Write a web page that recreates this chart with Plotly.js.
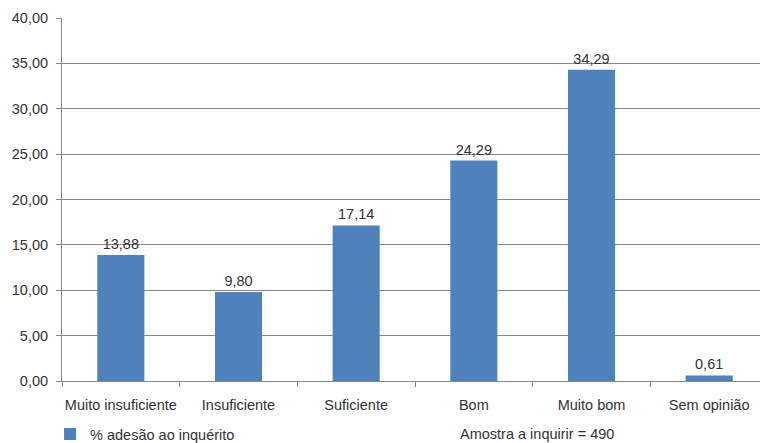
<!DOCTYPE html>
<html>
<head>
<meta charset="utf-8">
<script src="https://cdn.plot.ly/plotly-3.0.1.min.js"></script>
<style>
  html, body { margin: 0; padding: 0; overflow: hidden; background: #fff; }
  #chart { width: 770px; height: 443px; }
</style>
</head>
<body>
<div id="chart"></div>
<script>
// Avaliação do serviço – respostas ao inquérito (%)
const categorias = ["Muito insuficiente", "Insuficiente", "Suficiente", "Bom", "Muito bom", "Sem opinião"];
const adesao = [13.88, 9.80, 17.14, 24.29, 34.29, 0.61];
const nomeSerie = "% adesão ao inquérito";
const notaAmostra = "Amostra a inquirir = 490";
const yTicks = [0, 5, 10, 15, 20, 25, 30, 35, 40];

const cinza = "#888888";
const texto = "#333333";
const fonte = "Liberation Sans, Arial, sans-serif";
const tam = 14.5;

const trace = {
  type: "bar",
  x: categorias,
  y: adesao,
  name: nomeSerie,
  marker: { color: "#4F81BD" },
  texttemplate: "%{y:.2f}",
  textposition: "outside",
  cliponaxis: false,
  textfont: { family: fonte, size: tam, color: texto },
  hoverinfo: "x+y"
};

const layout = {
  width: 770,
  height: 443,
  margin: { l: 62, r: 2, t: 18, b: 62 },
  separators: ",.",
  paper_bgcolor: "#fff",
  plot_bgcolor: "#fff",
  bargap: 0.6,
  font: { family: fonte, size: tam, color: texto },
  showlegend: true,
  legend: {
    orientation: "h",
    xref: "container", yref: "container",
    x: 0.065, xanchor: "left",
    y: 0.02, yanchor: "middle",
    font: { family: fonte, size: tam, color: texto },
    bgcolor: "rgba(0,0,0,0)"
  },
  xaxis: {
    type: "category",
    automargin: false,
    tickangle: 0,
    showline: true,
    linecolor: cinza,
    linewidth: 1,
    ticks: "outside",
    tickson: "boundaries",
    ticklen: 5,
    tickcolor: cinza,
    ticklabelstandoff: 11,
    showgrid: false,
    tickfont: { family: fonte, size: tam, color: texto },
    fixedrange: true
  },
  yaxis: {
    range: [0, 40],
    automargin: false,
    tickvals: yTicks,
    tickformat: ".2f",
    showline: true,
    linecolor: cinza,
    linewidth: 1,
    ticks: "outside",
    ticklen: 5,
    tickcolor: cinza,
    ticklabelstandoff: 5,
    showgrid: true,
    gridcolor: cinza,
    gridwidth: 1,
    zeroline: false,
    tickfont: { family: fonte, size: tam, color: texto },
    fixedrange: true
  },
  annotations: [{
    text: notaAmostra,
    xref: "paper", yref: "paper",
    x: 0.561, xanchor: "left",
    y: -0.146, yanchor: "middle",
    showarrow: false,
    font: { family: fonte, size: tam, color: texto }
  }]
};

Plotly.newPlot("chart", [trace], layout, { displayModeBar: false, staticPlot: true });
</script>
</body>
</html>
